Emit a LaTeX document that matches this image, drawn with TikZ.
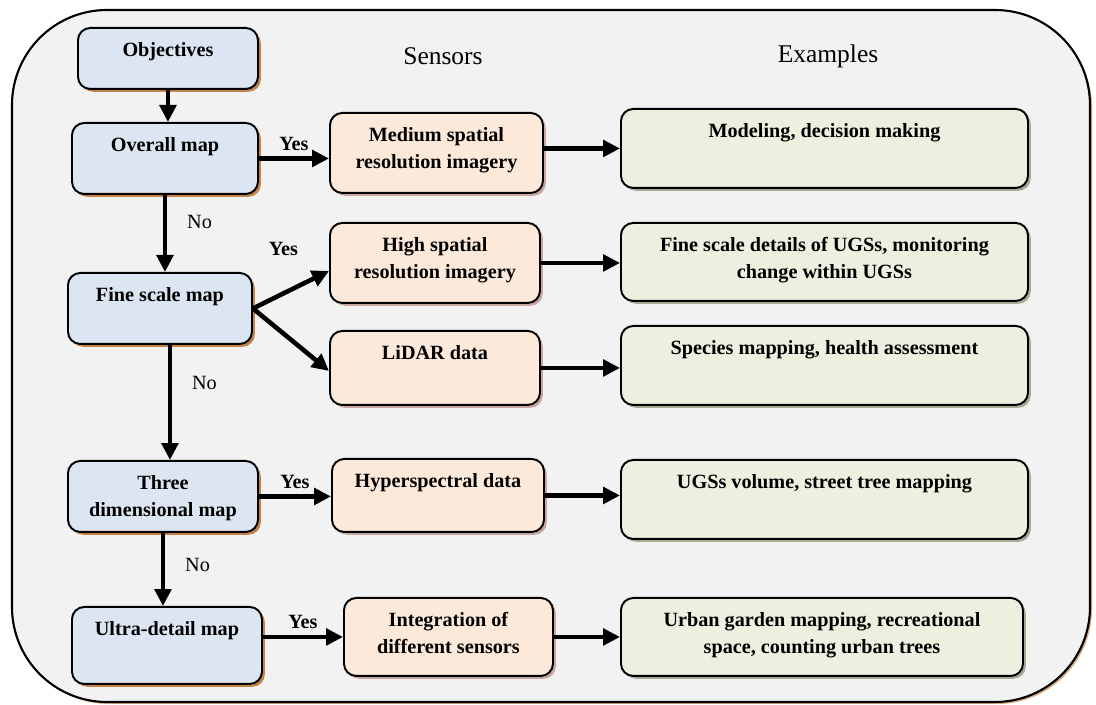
\documentclass[tikz,border=0pt]{standalone}
\usepackage{fontspec}
\setmainfont{Liberation Serif}
\usetikzlibrary{arrows.meta,positioning,shadows}
\definecolor{objblue}{RGB}{220,230,242}
\definecolor{sensorange}{RGB}{253,233,217}
\definecolor{examgreen}{RGB}{235,241,222}
\definecolor{panelgray}{RGB}{242,242,242}
\definecolor{shadowbrown}{RGB}{196,130,75}
\definecolor{shadowrose}{RGB}{200,165,160}
\definecolor{shadowsage}{RGB}{165,172,150}
\definecolor{paneltan}{RGB}{215,170,125}
\newlength\pxu
\setlength\pxu{0.02cm}
\newcommand{\flowtext}[3]{\parbox[c][#2\pxu][t]{#1\pxu}{\centering\vspace*{5.6pt}\strut #3\strut}}
\tikzset{
 flowbox/.style={
 rectangle,
 rounded corners=7pt,
 draw=black,
 line width=1.1pt,
 inner sep=0pt,
 anchor=north west,
 font=\fontsize{11.5}{15.3}\selectfont\bfseries
 },
 objective/.style={
 flowbox,
 fill=objblue,
 drop shadow={shadow xshift=1.6pt, shadow yshift=-1.6pt, fill=shadowbrown, opacity=1}
 },
 sensor/.style={
 flowbox,
 fill=sensorange,
 drop shadow={shadow xshift=1.6pt, shadow yshift=-1.6pt, fill=shadowrose, opacity=1}
 },
 example/.style={
 flowbox,
 fill=examgreen,
 drop shadow={shadow xshift=1.6pt, shadow yshift=-1.6pt, fill=shadowsage, opacity=1}
 },
 heading/.style={font=\fontsize{14.5}{17}\selectfont},
 yesanswer/.style={font=\fontsize{11.5}{14}\selectfont\bfseries},
 noanswer/.style={font=\fontsize{11.5}{14}\selectfont},
 flowarrow/.style={-{Triangle[length=3.4mm,width=3.3mm]}, line width=2.6pt}
}

\begin{document}
\begin{tikzpicture}[x=0.02cm, y=-0.02cm]
 \useasboundingbox (0,0) rectangle (1096,705);
 % panel
 \fill[paneltan, rounded corners=1.9cm] (14,12) rectangle (1092,704);
 \draw[fill=panelgray, line width=1.2pt, rounded corners=1.9cm] (12,10) rectangle (1090,702);

 \node[heading] (senshead) at (443,56) {Sensors};
 \node[heading] (examhead) at (828,56) {Examples};

 % objectives column
 \node[objective] (obj) at (77,27) {\flowtext{180}{61}{Objectives}};
 \node[objective] (overall) at (71,122) {\flowtext{186}{71}{Overall map}};
 \node[objective] (fine) at (67,272) {\flowtext{184}{71}{Fine scale map}};
 \node[objective] (three) at (67,460) {\flowtext{190}{71}{Three\\dimensional map}};
 \node[objective] (ultra) at (71,606) {\flowtext{190}{77}{Ultra-detail map}};

 % sensors column
 \node[sensor] (medium) at (329,112) {\flowtext{213}{80}{Medium spatial\\resolution imagery}};
 \node[sensor] (high) at (329,222) {\flowtext{210}{80}{High spatial\\resolution imagery}};
 \node[sensor] (lidar) at (329,330) {\flowtext{210}{74}{LiDAR data}};
 \node[sensor] (hyper) at (331,458) {\flowtext{212}{73}{Hyperspectral data}};
 \node[sensor] (integ) at (343,597) {\flowtext{209}{78}{Integration of\\different sensors}};

 % examples column
 \node[example] (model) at (620,108) {\flowtext{407}{79}{Modeling, decision making}};
 \node[example] (finedet) at (620,222) {\flowtext{407}{78}{Fine scale details of UGSs, monitoring\\change within UGSs}};
 \node[example] (species) at (620,325) {\flowtext{407}{79}{Species mapping, health assessment}};
 \node[example] (volume) at (620,459) {\flowtext{407}{79}{UGSs volume, street tree mapping}};
 \node[example] (garden) at (620,597) {\flowtext{402}{78}{Urban garden mapping, recreational\\space, counting urban trees}};

 % decisions
 \draw[flowarrow] (obj.south) -- (obj.south |- overall.north);
 \draw[flowarrow] (overall.east) -- node[above, yesanswer] {Yes} (overall.east -| medium.west);
 \draw[flowarrow] (overall.south) -- node[pos=0.35, right=8pt, noanswer] {No} (overall.south |- fine.north);
 \draw[flowarrow] (fine.east) -- node[pos=0.4, above=17pt, yesanswer] {Yes} ([yshift=-0.16cm]high.west);
 \draw[flowarrow] (fine.east) -- ([yshift=-0.06cm]lidar.west);
 \draw[flowarrow] ([xshift=0.2cm]fine.south) -- node[pos=0.33, right=8pt, noanswer] {No} ([xshift=0.2cm]fine.south |- three.north);
 \draw[flowarrow] (three.east) -- node[above, yesanswer] {Yes} (three.east -| hyper.west);
 \draw[flowarrow] (three.south) -- node[pos=0.44, right=8pt, noanswer] {No} (three.south |- ultra.north);
 \draw[flowarrow] (integ.west -| ultra.east) -- node[above, yesanswer] {Yes} (integ.west);

 % sensors to examples
 \draw[flowarrow] (medium.east |- model.west) -- (model.west);
 \draw[flowarrow] (high.east) -- (high.east -| finedet.west);
 \draw[flowarrow] (lidar.east) -- (lidar.east -| species.west);
 \draw[flowarrow] (hyper.east) -- (hyper.east -| volume.west);
 \draw[flowarrow] (integ.east) -- (integ.east -| garden.west);
\end{tikzpicture}
\end{document}
